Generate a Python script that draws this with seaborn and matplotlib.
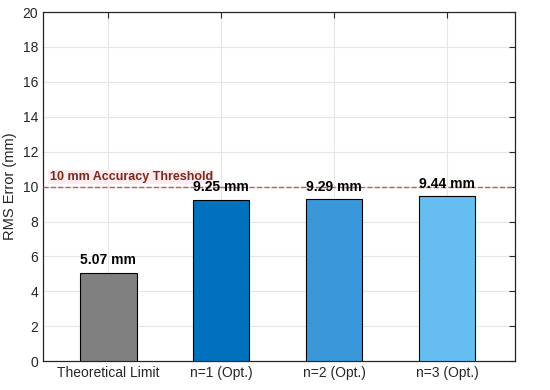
import pandas as pd
import matplotlib
matplotlib.use('Agg')
import matplotlib.pyplot as plt
import seaborn as sns

# Datos
categorias = ['Theoretical Limit', 'n=1 (Opt.)', 'n=2 (Opt.)', 'n=3 (Opt.)']
rms_error = [5.07, 9.25, 9.29, 9.44]
colores = ['#808080', '#0072BD', '#3A98DA', '#66BDF2']
umbral = 10

df = pd.DataFrame({'Metodo': categorias, 'RMS': rms_error})

sns.set_style('white')
plt.rcParams['font.family'] = ['Liberation Sans', 'DejaVu Sans']

fig = plt.figure(figsize=(5.5, 3.9), dpi=100)
ax = fig.add_axes([0.078, 0.074, 0.858, 0.895])

sns.barplot(data=df, x='Metodo', y='RMS', hue='Metodo', palette=colores,
            saturation=1, width=0.5, edgecolor='black', linewidth=0.8,
            legend=False, ax=ax, zorder=3)

# Linea de umbral
ax.axhline(umbral, color='#C8584A', linestyle='--', linewidth=1.0, zorder=4)
ax.text(-0.52, umbral + 0.2, '10 mm Accuracy Threshold', color='#7A2A18',
        fontsize=9, fontweight='bold', ha='left', va='bottom', zorder=5,
        bbox=dict(facecolor='#FDEBEF', edgecolor='none', pad=1.0))

# Etiquetas de valores
for i, v in enumerate(rms_error):
    ax.text(i, v + 0.3, f'{v:.2f} mm', ha='center', va='bottom',
            fontsize=10, fontweight='bold', color='black', zorder=6)

ax.set_xlim(-0.58, 3.6)
ax.set_ylim(0, 20)
ax.set_yticks(range(0, 21, 2))
ax.set_xlabel('')
ax.set_ylabel('RMS Error (mm)', fontsize=10.5, color='#262626')
ax.grid(True, color='#E6E6E6', linewidth=0.8, zorder=0)
ax.set_axisbelow(True)
ax.tick_params(direction='in', length=4, top=True, right=True, labelsize=10,
               colors='#262626', width=0.8)
for s in ax.spines.values():
    s.set_color('#262626')
    s.set_linewidth(0.9)

fig.savefig('out.png', dpi=100)
